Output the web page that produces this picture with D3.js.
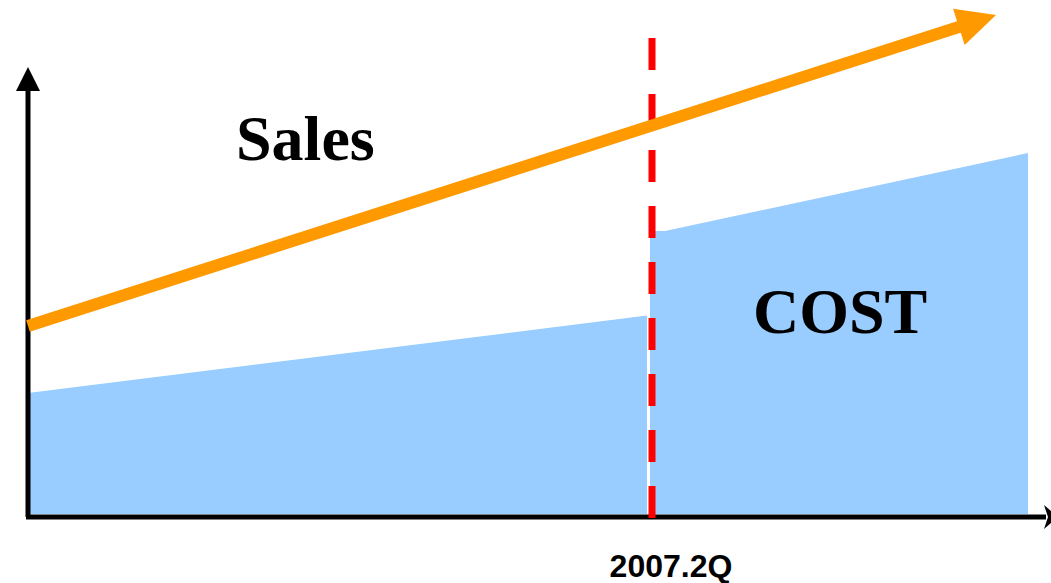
<!DOCTYPE html>
<html>
<head>
<meta charset="utf-8">
<script src="https://cdn.jsdelivr.net/npm/d3@7"></script>
<style>
  body { margin: 0; background: #fff; }
  svg { display: block; }
</style>
</head>
<body>
<svg id="chart" width="1051" height="583"></svg>
<script>
// cost area, two segments split at the 2007.2Q break
const costBefore = [
  {x: 0, y: 24.2},
  {x: 61.9, y: 39.7}
]
const costAfter = [
  {x: 62.2, y: 56.6},
  {x: 63.7, y: 56.6},
  {x: 100, y: 72.2}
]
// sales trend arrow
const sales = [
  {x: 0, y: 37.6},
  {x: 96.8, y: 99.8}
]
const breakX = 62.4
const breakLabel = "2007.2Q"

const svg = d3.select("#chart")

const x = d3.scaleLinear().domain([0, 100]).range([28, 1028])
const y = d3.scaleLinear().domain([0, 100]).range([514, 14])

const area = d3.area()
    .x(d => x(d.x))
    .y0(y(0))
    .y1(d => y(d.y))

svg.append("path")
    .datum(costBefore)
    .attr("d", area)
    .style("fill", "#99ccff")

svg.append("path")
    .datum(costAfter)
    .attr("d", area)
    .style("fill", "#99ccff")

// axes
svg.append("line")
    .attr("x1", 28).attr("y1", 517)
    .attr("x2", 28).attr("y2", 85)
    .style("stroke", "#000").style("stroke-width", 5)
svg.append("polygon")
    .attr("points", "28,67 16,91 40,91")
    .style("fill", "#000")

svg.append("line")
    .attr("x1", 26).attr("y1", 517)
    .attr("x2", 1046).attr("y2", 517)
    .style("stroke", "#000").style("stroke-width", 5)
svg.append("polygon")
    .attr("points", "1058,517 1044,505 1048,517 1044,529")
    .style("fill", "#000")

// break line
svg.append("line")
    .attr("x1", x(breakX)).attr("y1", 38)
    .attr("x2", x(breakX)).attr("y2", 519)
    .style("stroke", "#ff0000")
    .style("stroke-width", 7)
    .style("stroke-dasharray", "32,24")

// sales arrow
const p0 = [x(sales[0].x), y(sales[0].y)]
const p1 = [x(sales[1].x), y(sales[1].y)]
const ang = Math.atan2(p1[1] - p0[1], p1[0] - p0[0])
const headLen = 39, headHalf = 19
const base = [p1[0] - headLen * Math.cos(ang), p1[1] - headLen * Math.sin(ang)]

svg.append("line")
    .attr("x1", p0[0]).attr("y1", p0[1])
    .attr("x2", base[0] + 4 * Math.cos(ang)).attr("y2", base[1] + 4 * Math.sin(ang))
    .style("stroke", "#ff9900")
    .style("stroke-width", 12)

svg.append("polygon")
    .attr("points", [
        p1,
        [base[0] - headHalf * Math.sin(ang), base[1] + headHalf * Math.cos(ang)],
        [base[0] + headHalf * Math.sin(ang), base[1] - headHalf * Math.cos(ang)]
    ].map(p => p.join(",")).join(" "))
    .style("fill", "#ff9900")

// labels
svg.append("text")
    .attr("x", 236).attr("y", 160)
    .style("font-family", "'Liberation Serif', 'Times New Roman', serif")
    .style("font-weight", "bold")
    .style("font-size", "64px")
    .text("Sales")

svg.append("text")
    .attr("x", 753).attr("y", 333)
    .style("font-family", "'Liberation Serif', 'Times New Roman', serif")
    .style("font-weight", "bold")
    .style("font-size", "64px")
    .text("COST")

svg.append("text")
    .attr("x", x(breakX) + 19).attr("y", 577)
    .attr("text-anchor", "middle")
    .style("font-family", "'Liberation Sans', Arial, sans-serif")
    .style("font-weight", "bold")
    .style("font-size", "32px")
    .text(breakLabel)
</script>
</body>
</html>
